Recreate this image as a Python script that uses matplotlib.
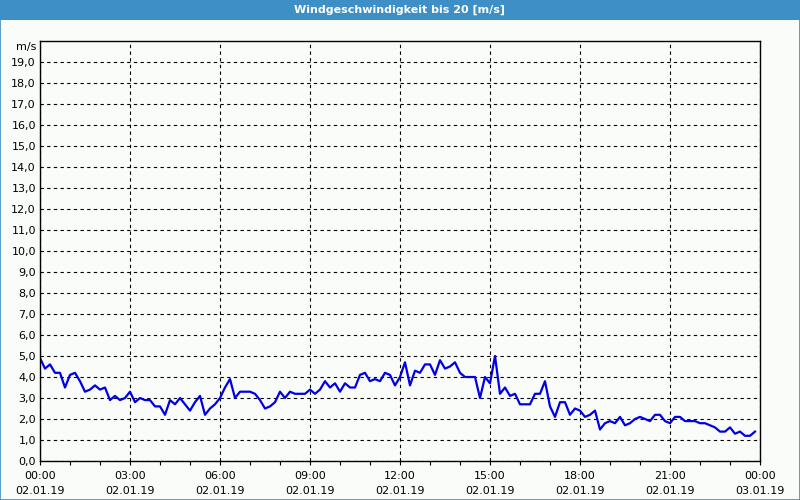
import numpy as np
import matplotlib.pyplot as plt
from matplotlib.patches import Rectangle

# Messwerte alle 10 Minuten, 02.01.19 00:00 bis 23:50
stunden = np.arange(144) / 6.0
wind = [
    4.9, 4.4, 4.6, 4.2, 4.2, 3.5, 4.1, 4.2, 3.8, 3.3, 3.4, 3.6,
    3.4, 3.5, 2.9, 3.1, 2.9, 3.0, 3.3, 2.8, 3.0, 2.9, 2.9, 2.6,
    2.6, 2.2, 2.9, 2.7, 3.0, 2.7, 2.4, 2.8, 3.1, 2.2, 2.5, 2.7,
    3.0, 3.5, 3.9, 3.0, 3.3, 3.3, 3.3, 3.2, 2.9, 2.5, 2.6, 2.8,
    3.3, 3.0, 3.3, 3.2, 3.2, 3.2, 3.4, 3.2, 3.4, 3.8, 3.5, 3.7,
    3.3, 3.7, 3.5, 3.5, 4.1, 4.2, 3.8, 3.9, 3.8, 4.2, 4.1, 3.6,
    4.0, 4.7, 3.6, 4.3, 4.2, 4.6, 4.6, 4.1, 4.8, 4.4, 4.5, 4.7,
    4.2, 4.0, 4.0, 4.0, 3.0, 4.0, 3.7, 5.0, 3.2, 3.5, 3.1, 3.2,
    2.7, 2.7, 2.7, 3.2, 3.2, 3.8, 2.6, 2.1, 2.8, 2.8, 2.2, 2.5,
    2.4, 2.1, 2.2, 2.4, 1.5, 1.8, 1.9, 1.8, 2.1, 1.7, 1.8, 2.0,
    2.1, 2.0, 1.9, 2.2, 2.2, 1.9, 1.8, 2.1, 2.1, 1.9, 1.9, 1.9,
    1.8, 1.8, 1.7, 1.6, 1.4, 1.4, 1.6, 1.3, 1.4, 1.2, 1.2, 1.4,
]

x_ticks = [0, 3, 6, 9, 12, 15, 18, 21, 24]
x_labels = ["00:00\n02.01.19", "03:00\n02.01.19", "06:00\n02.01.19",
            "09:00\n02.01.19", "12:00\n02.01.19", "15:00\n02.01.19",
            "18:00\n02.01.19", "21:00\n02.01.19", "00:00\n03.01.19"]
y_ticks = list(range(20))
y_labels = [f"{v},0" for v in range(20)]
einheit = "m/s"

hintergrund = "#f9fcf9"
fig = plt.figure(figsize=(8, 5), dpi=100, facecolor=hintergrund)

# Titelleiste
fig.patches.append(Rectangle((0, 0.96), 1, 0.04, transform=fig.transFigure,
                             facecolor="#3d8fc6", edgecolor="none"))
fig.patches.append(Rectangle((0.0006, 0.001), 0.9988, 0.998, transform=fig.transFigure,
                             facecolor="none", edgecolor="#3d8fc6", linewidth=1.2))
fig.text(0.5, 0.98, "Windgeschwindigkeit bis 20 [m/s]", color="white",
         ha="center", va="center", fontsize=8, fontweight="bold")

ax = fig.add_axes([0.05, 0.078, 0.9, 0.84])
ax.set_facecolor(hintergrund)
ax.plot(stunden, wind, color="#0000e6", linewidth=1.6)

ax.set_xlim(0, 24)
ax.set_ylim(0, 20)
ax.set_xticks(x_ticks)
ax.set_xticklabels(x_labels, fontsize=8, linespacing=1.6)
ax.set_xticks(range(25), minor=True)
ax.set_yticks(y_ticks)
ax.set_yticklabels(y_labels, fontsize=8)
# Einheit etwas unter der oberen Kante
ax.text(-0.0045, 0.997, einheit, transform=ax.transAxes, ha="right", va="top", fontsize=8)

ax.tick_params(axis="x", which="both", length=3, width=0.8, pad=4)
ax.tick_params(axis="y", length=0, pad=3)
ax.grid(True, which="major", color="black", linestyle=(0, (3, 3)), linewidth=0.8)
for s in ax.spines.values():
    s.set_color("black")
    s.set_linewidth(1.0)

fig.savefig("out.png", dpi=100, facecolor=hintergrund)
